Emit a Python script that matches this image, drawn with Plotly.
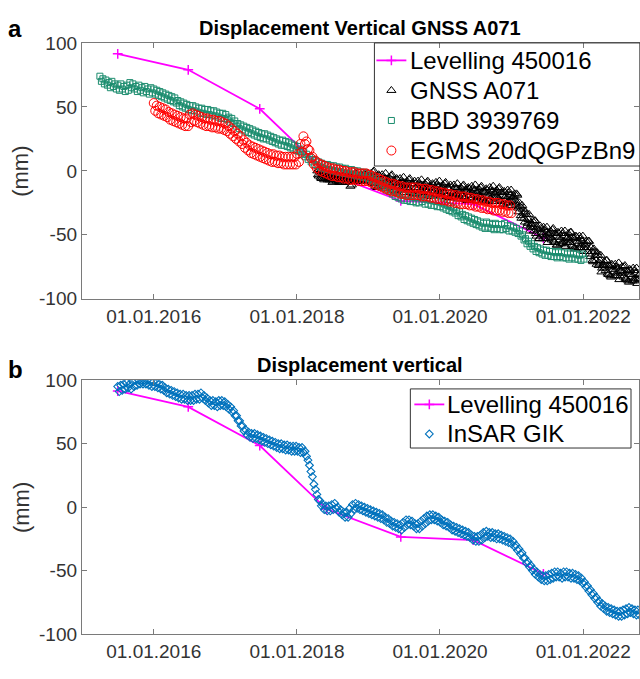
import plotly.graph_objects as go
import pandas as pd

FONT = "Liberation Sans, Arial, Helvetica, sans-serif"

# ---------------- data ----------------
lev_dates = ["2015-07-01", "2016-06-25", "2017-06-25", "2018-06-01",
             "2019-06-15", "2020-06-20", "2021-06-12"]
lev_vals = [91.5, 79, 48.5, -1.5, -23.5, -26, -52.5]

gnss_start, gnss_end = "2018-04-15", "2022-10-15"
gnss_vals = [
    0, -3, -4, 1, 0, -5, -6, -2, -3, -6, -7, -2, -2, -4, -5, -7, -3, -3, -7, -6, -4, -2, -9, -8, -6, -5,
    -4, -7, -8, -3, -3, -8, -9, -5, -6, -9, -9, -4, -4, -6, -7, -9, -4, -4, -8, -7, -5, -3, -12, -8, -11, -5,
    -3, -6, -7, -2, -2, -7, -8, -4, -5, -8, -8, -3, -3, -5, -6, -8, -3, -3, -7, -6, -4, -2, -8, -7, -5, -4,
    -2, -7, -9, -1, 0, -10, -12, -5, -6, -13, -13, -3, -4, -7, -9, -12, -3, -5, -12, -10, -6, -2, -14, -11, -8, -7,
    -5, -10, -12, -4, -3, -13, -15, -8, -9, -16, -16, -6, -7, -10, -12, -15, -6, -8, -15, -13, -9, -5, -17, -14, -11, -10,
    -8, -13, -15, -7, -6, -16, -17, -10, -11, -18, -18, -8, -10, -13, -15, -18, -8, -10, -17, -15, -11, -7, -19, -16, -13, -12,
    -10, -15, -17, -9, -8, -18, -19, -12, -13, -20, -20, -10, -11, -14, -16, -19, -9, -11, -18, -16, -12, -8, -20, -17, -14, -13,
    -11, -16, -18, -10, -9, -19, -20, -13, -14, -21, -21, -11, -13, -16, -18, -21, -11, -13, -20, -18, -14, -10, -22, -19, -16, -15,
    -13, -18, -20, -12, -11, -21, -22, -15, -16, -23, -23, -13, -14, -17, -19, -22, -12, -14, -21, -19, -15, -11, -23, -20, -17, -16,
    -14, -19, -21, -13, -12, -22, -23, -16, -17, -24, -24, -14, -15, -18, -20, -23, -13, -15, -22, -20, -16, -12, -24, -21, -18, -17,
    -15, -20, -22, -14, -13, -23, -24, -17, -19, -26, -26, -16, -17, -20, -22, -25, -15, -17, -25, -23, -19, -15, -27, -24, -21, -20,
    -18, -23, -26, -18, -19, -29, -32, -25, -28, -35, -37, -27, -30, -33, -37, -40, -32, -34, -43, -41, -38, -34, -47, -44, -42, -41,
    -39, -44, -47, -39, -39, -49, -51, -44, -46, -53, -53, -43, -45, -48, -50, -53, -44, -46, -53, -51, -48, -44, -56, -53, -50, -49,
    -47, -52, -54, -46, -45, -55, -56, -49, -51, -58, -58, -48, -49, -52, -54, -57, -47, -49, -57, -55, -51, -47, -59, -56, -53, -52,
    -49, -54, -56, -48, -48, -58, -59, -52, -53, -60, -61, -51, -52, -55, -57, -60, -51, -53, -60, -58, -55, -51, -63, -60, -58, -57,
    -55, -60, -63, -55, -55, -65, -67, -60, -63, -70, -71, -61, -63, -66, -70, -73, -64, -66, -74, -72, -70, -66, -79, -76, -74, -73,
    -71, -76, -78, -70, -70, -80, -81, -74, -75, -82, -83, -73, -74, -77, -79, -82, -73, -75, -82, -80, -76, -72, -85, -82, -79, -78,
    -75, -80, -83, -75, -74, -84, -85, -78, -79, -86, -87, -77, -78, -81, -83, -86, -76, -78, -86, -84, -80, -76, -88, -85, -82, -81,
]

bbd_start, bbd_end = "2015-04-01", "2022-01-05"
bbd_vals = [
    74, 70, 72, 68, 71, 67, 69, 65, 70, 66, 68, 64, 67, 63, 68, 64, 66, 62, 67, 63, 69, 65, 68, 64,
    66, 62, 67, 63, 65, 61, 66, 62, 64, 60, 65, 61,
    64, 60, 63, 59, 62, 58, 61, 57, 60, 56, 59, 55, 58, 54, 57, 53, 55, 51, 54, 50, 53, 49, 52, 48,
    51, 47, 51, 47, 50, 46, 49, 45, 49, 45, 48, 44, 48, 44, 47, 43, 47, 43, 46, 42, 45, 41, 45, 41,
    44, 40, 42, 38, 41, 37, 39, 35, 37, 33, 36, 32, 35, 31, 34, 30, 33, 29, 32, 28, 31, 27, 30, 26,
    29, 25, 29, 25, 28, 24, 27, 23, 26, 22, 25, 21, 24, 20, 24, 20, 23, 19, 22, 18, 21, 17, 20, 16,
    19, 15, 17, 13, 15, 11, 13, 9, 11, 7, 9, 5, 8, 4, 7, 3, 6, 2, 5, 1, 5, 1, 4, 0,
    4, 0, 3, -1, 3, -1, 2, -2, 2, -2, 1, -3, 1, -3, 0, -4, 0, -4, -1, -5, -1, -5, -2, -6,
    -3, -7, -4, -8, -6, -10, -8, -12, -9, -13, -11, -15, -12, -16, -14, -18, -16, -20, -17, -21, -18, -22, -19, -23,
    -19, -23, -20, -24, -20, -24, -21, -25, -21, -25, -20, -24, -22, -26, -22, -26, -23, -27, -23, -27, -24, -28, -24, -28,
    -25, -29, -26, -30, -27, -31, -28, -32, -29, -33, -31, -35, -32, -36, -34, -38, -35, -39, -36, -40, -37, -41, -38, -42,
    -39, -43, -40, -44, -41, -45, -40, -44, -41, -45, -42, -46, -41, -45, -42, -46, -42, -46, -41, -45, -43, -47, -43, -47,
    -44, -48, -45, -49, -47, -51, -50, -54, -53, -57, -55, -59, -57, -61, -59, -63, -60, -64, -61, -65, -62, -66, -62, -66,
    -63, -67, -63, -67, -64, -68, -63, -67, -64, -68, -64, -68, -65, -69, -64, -68, -65, -69, -65, -69, -66, -70, -65, -69,
]

egms_start, egms_end = "2016-01-01", "2020-12-31"
egms_vals = [
    53, 47, 51, 45, 50, 44, 49, 43, 48, 42, 46, 40, 45, 39, 44, 38, 43, 37, 42, 36, 41, 35, 41, 35,
    44, 38, 45, 39, 44, 38, 43, 37, 42, 36, 41, 35, 41, 35, 40, 34, 40, 34, 39, 33, 39, 33, 38, 32,
    37, 31, 35, 29, 33, 27, 31, 25, 29, 23, 27, 21, 24, 18, 22, 16, 20, 14, 19, 13, 18, 12, 17, 11,
    16, 10, 15, 9, 14, 8, 13, 7, 13, 7, 12, 6, 12, 6, 11, 5, 11, 5, 11, 5, 11, 5, 11, 5,
    13, 7, 21, 15, 27, 21, 23, 17, 16, 10, 11, 5, 8, 2, 6, 0, 5, -1, 4, -2, 3, -3, 2, -4,
    2, -4, 1, -5, 1, -5, 0, -6, 0, -6, -1, -7, -1, -7, -1, -7, -2, -8, -2, -8, -2, -8, -2, -8,
    -3, -9, -4, -10, -5, -11, -6, -12, -7, -13, -8, -14, -9, -15, -10, -16, -10, -16, -11, -17, -12, -18, -12, -18,
    -13, -19, -13, -19, -13, -19, -13, -19, -13, -19, -14, -20, -14, -20, -14, -20, -15, -21, -15, -21, -16, -22, -16, -22,
    -17, -23, -17, -23, -18, -24, -18, -24, -19, -25, -19, -25, -20, -26, -20, -26, -20, -26, -21, -27, -21, -27, -22, -28,
    -22, -28, -23, -29, -23, -29, -24, -30, -24, -30, -25, -31, -25, -31, -25, -31, -26, -32, -26, -32, -27, -33, -27, -33,
]

insar_start, insar_end = "2015-07-01", "2022-10-15"
insar_vals = [
    95, 91, 96, 92, 97, 93, 98, 94, 97, 93, 99, 95, 100, 96, 100, 97, 100, 97, 100, 97, 100, 96, 99, 95,
    99, 95, 98, 94, 97, 93, 96, 92, 94, 90, 93, 89, 92, 88, 91, 87, 90, 86, 89, 85, 89, 85, 88, 84,
    88, 84, 88, 84, 89, 85, 89, 85, 90, 86, 88, 84, 86, 82, 84, 80, 84, 80, 83, 79, 84, 80, 84, 80,
    83, 79, 81, 77, 79, 75, 76, 72, 72, 68, 68, 64, 64, 60, 61, 57, 59, 55, 58, 54, 58, 54, 57, 53,
    56, 52, 55, 51, 54, 50, 53, 49, 52, 48, 51, 47, 50, 46, 50, 46, 49, 45, 49, 45, 48, 44, 48, 44,
    48, 44, 47, 43, 47, 43, 44, 40, 37, 33, 28, 24, 18, 14, 10, 6, 5, 1, 2, -2, 1, -3, 1, -3,
    2, -2, 3, -1, 0, -4, -2, -6, -4, -8, -4, -8, -1, -5, 2, -2, 3, -1, 2, -2, 1, -3, 0, -4,
    -1, -5, -2, -6, -3, -7, -4, -8, -5, -9, -6, -10, -8, -12, -9, -13, -11, -15, -12, -16, -13, -17, -14, -18,
    -12, -16, -10, -14, -10, -14, -11, -15, -13, -17, -13, -17, -11, -15, -9, -13, -7, -11, -6, -10, -6, -10, -7, -11,
    -8, -12, -10, -14, -11, -15, -12, -16, -14, -18, -15, -19, -16, -20, -17, -21, -18, -22, -19, -23, -20, -24, -22, -26,
    -23, -27, -23, -27, -22, -26, -20, -24, -19, -23, -20, -24, -20, -24, -21, -25, -21, -25, -22, -26, -23, -27, -24, -28,
    -25, -29, -27, -31, -30, -34, -33, -37, -36, -40, -40, -44, -43, -47, -46, -50, -49, -53, -51, -55, -53, -57, -54, -58,
    -54, -58, -53, -57, -52, -56, -51, -55, -51, -55, -52, -56, -51, -55, -51, -55, -52, -56, -52, -56, -53, -57, -54, -58,
    -56, -60, -59, -63, -62, -66, -65, -69, -68, -72, -71, -75, -74, -78, -76, -80, -78, -82, -79, -83, -80, -84, -81, -85,
    -82, -86, -82, -86, -81, -85, -80, -84, -79, -83, -80, -84, -81, -85, -81, -85,
]

x_range = ["2014-12-30", "2022-10-13"]
xtick_vals = ["2016-01-01", "2018-01-01", "2020-01-01", "2022-01-01"]
xtick_text = ["01.01.2016", "01.01.2018", "01.01.2020", "01.01.2022"]
ytick_vals = [-100, -50, 0, 50, 100]
ytick_text = ["-100", "-50", "0", "50", "100"]

legend_a_names = ["Levelling 450016", "GNSS A071", "BBD 3939769", "EGMS 20dQGPzBn9"]
legend_b_names = ["Levelling 450016", "InSAR GIK"]


def dates(start, end, n):
    return pd.date_range(start, end, periods=n)


W, H = 640, 679
def px(xp):
    return xp / W
def py(yp):
    return 1 - yp / H

MAG = "#ff00ff"
GREEN = "#1b8c6e"
RED = "#ff0000"
BLUE = "#0072bd"

STY = {
    "lev": dict(mode="lines+markers", line=dict(color=MAG, width=1.8),
                marker=dict(symbol="cross-thin", size=7, line=dict(color=MAG, width=1.5))),
    "gnss": dict(mode="markers",
                 marker=dict(symbol="triangle-up-open", size=8, color="#000000", line=dict(width=1))),
    "bbd": dict(mode="markers",
                marker=dict(symbol="square-open", size=6, color=GREEN, line=dict(width=1))),
    "egms": dict(mode="markers",
                 marker=dict(symbol="circle-open", size=9, color=RED, line=dict(width=1))),
    "insar": dict(mode="markers",
                  marker=dict(symbol="diamond-open", size=6, color=BLUE, line=dict(width=1.1))),
}

fig = go.Figure()

# ---- panel a ----
fig.add_trace(go.Scatter(x=lev_dates, y=lev_vals, xaxis="x", yaxis="y", **STY["lev"]))
fig.add_trace(go.Scatter(x=dates(gnss_start, gnss_end, len(gnss_vals)), y=gnss_vals,
                         xaxis="x", yaxis="y", **STY["gnss"]))
fig.add_trace(go.Scatter(x=dates(bbd_start, bbd_end, len(bbd_vals)), y=bbd_vals,
                         xaxis="x", yaxis="y", **STY["bbd"]))
fig.add_trace(go.Scatter(x=dates(egms_start, egms_end, len(egms_vals)), y=egms_vals,
                         xaxis="x", yaxis="y", **STY["egms"]))

# ---- panel b ----
fig.add_trace(go.Scatter(x=lev_dates, y=lev_vals, xaxis="x2", yaxis="y2", **STY["lev"]))
fig.add_trace(go.Scatter(x=dates(insar_start, insar_end, len(insar_vals)), y=insar_vals,
                         xaxis="x2", yaxis="y2", **STY["insar"]))

# ---- legends (boxed, MATLAB style) drawn on a full-page overlay axis in pixel units ----
annos = []
shapes = []

def add_legend(names, styles, box_left, box_top, box_bottom, box_right, sym_x, text_x, row0, dy):
    shapes.append(dict(type="rect", xref="paper", yref="paper", layer="above",
                       x0=px(box_left), x1=px(box_right), y0=py(box_bottom), y1=py(box_top),
                       line=dict(color="#333333", width=1), fillcolor="rgba(0,0,0,0)"))
    for i, (nm, st) in enumerate(zip(names, styles)):
        yy = row0 + i * dy
        s = STY[st]
        if st == "lev":
            fig.add_trace(go.Scatter(x=[sym_x - 15, sym_x + 15], y=[yy, yy], mode="lines",
                                     line=s["line"], xaxis="x3", yaxis="y3", cliponaxis=False,
                                     hoverinfo="skip"))
        fig.add_trace(go.Scatter(x=[sym_x], y=[yy], mode="markers", marker=s["marker"],
                                 xaxis="x3", yaxis="y3", cliponaxis=False, hoverinfo="skip"))
        annos.append(dict(text=nm, x=px(text_x), y=py(yy), xanchor="left", yanchor="middle",
                          font=dict(size=24, color="#000000")))

add_legend(legend_a_names, ["lev", "gnss", "bbd", "egms"], 375, 34, 161, 700, 392, 409, 52, 31)
add_legend(legend_b_names, ["lev", "insar"], 411, 391, 452, 632, 430, 446, 407, 30.5)

axis_line = "#7a7a7a"
tickfont = dict(family=FONT, size=19, color="#333333")

def xaxis_cfg(anchor):
    return dict(domain=[px(82), 1], anchor=anchor, type="date", range=x_range,
                tickmode="array", tickvals=xtick_vals, ticktext=xtick_text,
                ticks="inside", ticklen=5, tickcolor=axis_line, tickwidth=1,
                showline=True, linecolor=axis_line, linewidth=1, mirror="ticks",
                showgrid=False, zeroline=False, tickfont=tickfont)

def yaxis_cfg(anchor, top, bottom):
    return dict(domain=[py(bottom), py(top)], anchor=anchor, range=[-100, 100],
                tickmode="array", tickvals=ytick_vals, ticktext=ytick_text,
                ticks="inside", ticklen=5, tickcolor=axis_line, tickwidth=1,
                showline=True, linecolor=axis_line, linewidth=1, mirror="ticks",
                showgrid=False, zeroline=False, tickfont=tickfont)

fig.update_layout(
    width=W, height=H, margin=dict(l=0, r=0, t=0, b=0),
    paper_bgcolor="white", plot_bgcolor="rgba(0,0,0,0)",
    font=dict(family=FONT),
    xaxis=xaxis_cfg("y"), yaxis=yaxis_cfg("x", 34, 298),
    xaxis2=xaxis_cfg("y2"), yaxis2=yaxis_cfg("x2", 382, 644),
    xaxis3=dict(domain=[0, 1], range=[0, W], visible=False, fixedrange=True, anchor="y3"),
    yaxis3=dict(domain=[0, 1], range=[H, 0], visible=False, fixedrange=True, anchor="x3"),
    showlegend=False,
    shapes=shapes,
)

annos += [
    dict(text="<b>a</b>", x=px(6), y=py(19), xanchor="left", yanchor="middle",
         font=dict(size=24, color="#000000")),
    dict(text="<b>b</b>", x=px(6), y=py(371), xanchor="left", yanchor="middle",
         font=dict(size=24, color="#000000")),
    dict(text="<b>Displacement Vertical GNSS A071</b>", x=px(361), y=py(19), xanchor="center",
         yanchor="middle", font=dict(size=20, color="#000000")),
    dict(text="<b>Displacement vertical</b>", x=px(361), y=py(366), xanchor="center",
         yanchor="middle", font=dict(size=20, color="#000000")),
    dict(text="(mm)", x=px(21), y=py(166), xanchor="center", yanchor="middle", textangle=-90,
         font=dict(size=22, color="#333333")),
    dict(text="(mm)", x=px(21), y=py(513), xanchor="center", yanchor="middle", textangle=-90,
         font=dict(size=22, color="#333333")),
]
for a in annos:
    a.update(xref="paper", yref="paper", showarrow=False)
    a["font"]["family"] = FONT
fig.update_layout(annotations=annos)

fig.write_html("out.html")
